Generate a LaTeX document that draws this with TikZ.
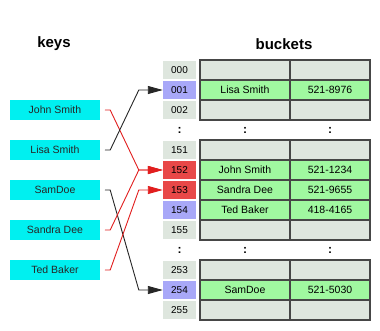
\documentclass[tikz,border=0pt]{standalone}
\usepackage{fontspec}
\setmainfont{Liberation Sans}
\usetikzlibrary{arrows.meta}
\definecolor{keycyan}{RGB}{0,240,240}
\definecolor{slotgray}{RGB}{222,230,222}
\definecolor{slotblue}{RGB}{168,168,248}
\definecolor{slotred}{RGB}{232,72,72}
\definecolor{cellgreen}{RGB}{160,248,160}
\definecolor{edgegray}{RGB}{70,70,70}
\definecolor{linkred}{RGB}{225,30,30}

\begin{document}
\begin{tikzpicture}[x=1pt,y=-1pt,>={Triangle[length=15pt,width=8pt]},font=\fontsize{10.5}{12}\selectfont,line cap=round,
  keybox/.style={fill=keycyan,minimum width=90pt,minimum height=20pt,inner sep=0pt,text=black!85},
  slot/.style={minimum width=33pt,minimum height=18pt,inner sep=0pt,font=\fontsize{10}{12}\selectfont},
  cell/.style={draw=edgegray,line width=1.2pt,minimum height=20pt,inner sep=0pt},
  title/.style={font=\fontsize{15}{18}\selectfont\bfseries},
  link/.style={->,line width=0.9pt}]
\useasboundingbox (0,0) rectangle (380,330);

% titles
\node[title] (keystitle) at (54,44) {keys};
\node[title] (buckettitle) at (284,44) {buckets};

% keys
\foreach \k/\y/\txt in {js/110/John Smith,ls/150/Lisa Smith,sd/190/SamDoe,sa/230/Sandra Dee,tb/270/Ted Baker}
  \node[keybox] (\k) at (55,\y) {\txt};

% slots and bucket entries
\foreach \n/\y/\c/\f/\who/\num in {000/70/slotgray/slotgray/{}/{},001/90/slotblue/cellgreen/Lisa Smith/521-8976,
    002/110/slotgray/slotgray/{}/{},151/150/slotgray/slotgray/{}/{},152/170/slotred/cellgreen/John Smith/521-1234,
    153/190/slotred/cellgreen/Sandra Dee/521-9655,154/210/slotblue/cellgreen/Ted Baker/418-4165,
    155/230/slotgray/slotgray/{}/{},253/270/slotgray/slotgray/{}/{},254/290/slotblue/cellgreen/SamDoe/521-5030,
    255/310/slotgray/slotgray/{}/{}}{
  \node[slot,fill=\c] (s\n) at (179.5,\y) {\n};
  \node[cell,fill=\f,minimum width=90pt] (a\n) at (245,\y) {\who};
  \node[cell,fill=\f,minimum width=80pt] (b\n) at (330,\y) {\num};
}

% elided rows
\foreach \y/\r in {130/1,250/2}{
  \node[font=\large\bfseries] (dots\r) at (179.5,\y) {:};
  \node[font=\large\bfseries] (dotsa\r) at (245,\y) {:};
  \node[font=\large\bfseries] (dotsb\r) at (330,\y) {:};
}

% hash links
\draw[link,linkred] ([xshift=5pt]js.east) -- ++(5,0) -- ([xshift=-24pt]s152.west) -- (s152.west);
\draw[link,black!85] ([xshift=5pt]ls.east) -- ++(5,0) -- ([xshift=-24pt]s001.west) -- (s001.west);
\draw[link,black!85] ([xshift=5pt]sd.east) -- ++(5,0) -- ([xshift=-24pt]s254.west) -- (s254.west);
\draw[link,linkred] ([xshift=5pt]sa.east) -- ++(5,0) -- ([xshift=-24pt]s152.west) -- (s152.west);
\draw[link,linkred] ([xshift=5pt]tb.east) -- ++(5,0) -- ([xshift=-24pt]s153.west) -- (s153.west);
\end{tikzpicture}
\end{document}
